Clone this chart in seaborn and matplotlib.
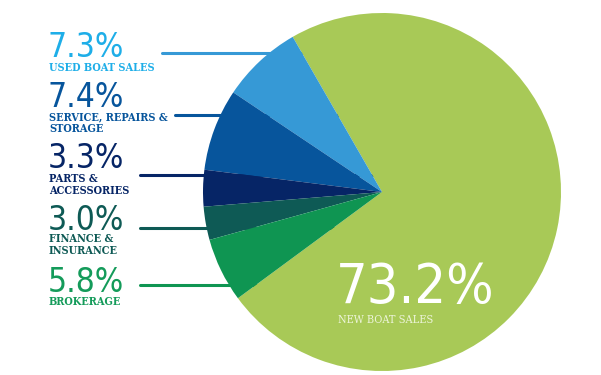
import matplotlib
matplotlib.use("Agg")
import matplotlib.pyplot as plt
import seaborn as sns

# dados do gráfico
categorias = ['New Boat Sales', 'Used Boat Sales', 'Service, Repairs & Storage',
              'Parts & Accessories', 'Finance & Insurance', 'Brokerage']
valores = [73.2, 7.3, 7.4, 3.3, 3.0, 5.8]
cores = ['#a8c957', '#3699d6', '#07559c', '#062566', '#0e5a55', '#0f9552']
cores_texto = ['#ffffff', '#1eaee8', '#07559c', '#062566', '#0e5a55', '#149b5a']
rotulos = ['NEW BOAT SALES', 'USED BOAT SALES', 'SERVICE, REPAIRS &\nSTORAGE',
           'PARTS &\nACCESSORIES', 'FINANCE &\nINSURANCE', 'BROKERAGE']

sns.set_theme(style='white')
plt.rcParams['font.family'] = ['DejaVu Sans']

W, H = 601, 375
fig = plt.figure(figsize=(W / 100, H / 100), dpi=100)
fig.patch.set_facecolor('white')

# eixo da pizza em pixels (centro ~ 382,192 ; raio ~179)
cx, cy, r = 382, 192, 179
ax = fig.add_axes([(cx - r) / W, (H - cy - r) / H, 2 * r / W, 2 * r / H])
ax.pie(valores, colors=cores, startangle=-143.6, counterclock=True,
       radius=1, wedgeprops=dict(linewidth=0))
ax.set_xlim(-1, 1)
ax.set_ylim(-1, 1)
ax.set_aspect('auto')
ax.axis('off')

def fx(x):
    return x / W

def fy(y):
    return 1 - y / H

# linhas guia (por baixo da pizza)
linhas = [(53, 162), (115, 175), (175, 140), (228, 140), (285, 140)]
for i, (ly, lx) in enumerate(linhas):
    fig.add_artist(plt.Line2D([fx(lx), fx(cx)], [fy(ly), fy(ly)],
                              color=cores[i + 1], lw=2.2, zorder=0))
ax.set_zorder(1)

# textos à esquerda: (baseline do %, baseline da primeira linha do rótulo)
pos = [(57, 71), (107, 120), (168, 182), (230, 242), (292, 305)]
for i, (yp, yl) in enumerate(pos):
    c = cores_texto[i + 1]
    fig.text(fx(48), fy(yp), f'{valores[i + 1]:.1f}%', color=c, fontsize=24,
             fontstretch='condensed', va='baseline', ha='left', zorder=3)
    for k, linha in enumerate(rotulos[i + 1].split('\n')):
        fig.text(fx(49), fy(yl + 12 * k), linha, color=c, fontsize=7.8,
                 family='DejaVu Serif', weight='bold', fontstretch='condensed',
                 va='baseline', ha='left', zorder=3)

# valor principal
fig.text(fx(336), fy(303), f'{valores[0]:.1f}%', color='white', fontsize=40,
         fontstretch='condensed', va='baseline', ha='left', zorder=5)
fig.text(fx(338), fy(323), rotulos[0], color='#eef5dc', fontsize=7.8,
         family='DejaVu Serif', fontstretch='condensed',
         va='baseline', ha='left', zorder=5)

fig.savefig('out.png', dpi=100, facecolor='white')
